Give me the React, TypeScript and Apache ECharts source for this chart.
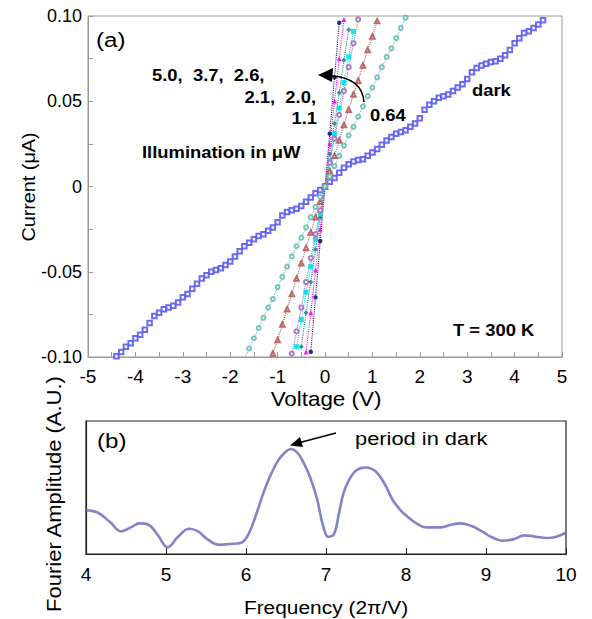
import React, { useEffect, useRef } from "react";
import * as echarts from "echarts";

const FONT = "'Liberation Sans', Arial, sans-serif";

// ---- Panel (a): I-V curves ----
const darkVoltage = [
  -4.4, -4.3, -4.2, -4.1, -4.0, -3.9, -3.8, -3.7, -3.6, -3.5, -3.4, -3.3, -3.2, -3.1, -3.0,
  -2.9, -2.8, -2.7, -2.6, -2.5, -2.4, -2.3, -2.2, -2.1, -2.0, -1.9, -1.8, -1.7, -1.6, -1.5,
  -1.4, -1.3, -1.2, -1.1, -1.0, -0.9, -0.8, -0.7, -0.6, -0.5, -0.4, -0.3, -0.2, -0.1, 0.0,
  0.1, 0.2, 0.3, 0.4, 0.5, 0.6, 0.7, 0.8, 0.9, 1.0, 1.1, 1.2, 1.3, 1.4, 1.5,
  1.6, 1.7, 1.8, 1.9, 2.0, 2.1, 2.2, 2.3, 2.4, 2.5, 2.6, 2.7, 2.8, 2.9, 3.0,
  3.1, 3.2, 3.3, 3.4, 3.5, 3.6, 3.7, 3.8, 3.9, 4.0, 4.1, 4.2, 4.3, 4.4, 4.5, 4.6,
];
const darkCurrent = [
  -0.0995, -0.097, -0.094, -0.092, -0.089, -0.087, -0.084, -0.08, -0.076, -0.074, -0.072, -0.071, -0.07, -0.068, -0.065,
  -0.063, -0.06, -0.057, -0.054, -0.052, -0.05, -0.049, -0.048, -0.046, -0.044, -0.041, -0.038, -0.035, -0.033, -0.031,
  -0.029, -0.028, -0.026, -0.024, -0.021, -0.017, -0.015, -0.014, -0.013, -0.0115, -0.009, -0.0065, -0.004, -0.002, 0.0,
  0.0028, 0.005, 0.008, 0.011, 0.013, 0.0146, 0.0155, 0.016, 0.018, 0.02, 0.022, 0.0245, 0.027, 0.029, 0.031,
  0.032, 0.033, 0.035, 0.037, 0.04, 0.045, 0.048, 0.05, 0.052, 0.053, 0.054, 0.056, 0.058, 0.06, 0.063,
  0.067, 0.0695, 0.071, 0.072, 0.073, 0.0735, 0.075, 0.077, 0.08, 0.084, 0.087, 0.09, 0.091, 0.093, 0.095, 0.0975,
];

const v50 = [-0.3, -0.2, -0.1, 0, 0.1, 0.2, 0.3];
const i50 = [-0.097, -0.065, -0.032, 0, 0.031, 0.064, 0.096];

const v37 = [-0.4, -0.3, -0.2, -0.1, 0, 0.1, 0.2, 0.3, 0.4];
const i37 = [-0.097, -0.074, -0.049, -0.025, 0, 0.025, 0.05, 0.075, 0.098];

const v26 = [-0.5, -0.4, -0.3, -0.2, -0.1, 0, 0.1, 0.2, 0.3, 0.4, 0.5];
const i26 = [-0.094, -0.074, -0.056, -0.037, -0.018, 0, 0.019, 0.037, 0.055, 0.074, 0.092];

const v21 = [-0.6, -0.5, -0.4, -0.3, -0.2, -0.1, 0, 0.1, 0.2, 0.3, 0.4, 0.5, 0.6];
const i21 = [-0.094, -0.078, -0.062, -0.047, -0.031, -0.016, 0, 0.015, 0.031, 0.046, 0.061, 0.076, 0.091];

const v20 = [-0.7, -0.6, -0.5, -0.4, -0.3, -0.2, -0.1, 0, 0.1, 0.2, 0.3, 0.4, 0.5, 0.6, 0.7];
const i20 = [-0.098, -0.085, -0.071, -0.056, -0.042, -0.028, -0.014, 0, 0.014, 0.028, 0.042, 0.056, 0.07, 0.084, 0.098];

const v11 = [-1.1, -1.0, -0.9, -0.8, -0.7, -0.6, -0.5, -0.4, -0.3, -0.2, -0.1, 0, 0.1, 0.2, 0.3, 0.4, 0.5, 0.6, 0.7, 0.8, 0.9, 1.0, 1.1];
const i11 = [-0.098, -0.09, -0.081, -0.072, -0.063, -0.054, -0.045, -0.036, -0.027, -0.018, -0.009, 0, 0.009, 0.018, 0.027, 0.036, 0.045, 0.054, 0.062, 0.071, 0.08, 0.088, 0.097];

const v064 = [-1.7, -1.6, -1.5, -1.4, -1.3, -1.2, -1.1, -1.0, -0.9, -0.8, -0.7, -0.6, -0.5, -0.4, -0.3, -0.2, -0.1, 0,
  0.1, 0.2, 0.3, 0.4, 0.5, 0.6, 0.7, 0.8, 0.9, 1.0, 1.1, 1.2, 1.3, 1.4, 1.5, 1.6, 1.7];
const i064 = [-0.101, -0.095, -0.089, -0.083, -0.077, -0.071, -0.066, -0.059, -0.053, -0.047, -0.041, -0.035, -0.03, -0.024, -0.018, -0.012, -0.006, 0,
  0.006, 0.012, 0.018, 0.024, 0.03, 0.035, 0.041, 0.047, 0.053, 0.058, 0.064, 0.07, 0.076, 0.081, 0.087, 0.093, 0.099];

const illumSeries = [
  { name: "5.0", v: v50, i: i50, color: "#1b1b72", symbol: "circle", size: 4.5 },
  { name: "3.7", v: v37, i: i37, color: "#ff00ff", symbol: "triangle", size: 5 },
  { name: "2.6", v: v26, i: i26, color: "#1f8a80", symbol: "diamond", size: 5 },
  { name: "2.1", v: v21, i: i21, color: "#00e0ee", symbol: "rect", size: 5 },
  { name: "2.0", v: v20, i: i20, color: "#a070c0", symbol: "emptyCircle", size: 4.2 },
  { name: "1.1", v: v11, i: i11, color: "#b25a5a", symbol: "emptyTriangle", size: 4.5 },
  { name: "0.64", v: v064, i: i064, color: "#6cbdb5", symbol: "emptyCircle", size: 4 },
];

// ---- Panel (b): Fourier spectrum ----
const freq = [4.0, 4.15, 4.3, 4.44, 4.56, 4.67, 4.78, 4.9, 5.02, 5.15, 5.29, 5.4, 5.52, 5.66, 5.8, 5.94, 6.04, 6.14,
  6.23, 6.32, 6.41, 6.5, 6.56, 6.63, 6.7, 6.8, 6.89, 6.96, 7.03, 7.1, 7.16, 7.22, 7.29, 7.36, 7.43, 7.5, 7.57, 7.64,
  7.74, 7.83, 7.93, 8.02, 8.13, 8.25, 8.44, 8.56, 8.68, 8.82, 8.95, 9.06, 9.2, 9.34, 9.48, 9.62, 9.76, 9.88, 10.0];
const amp = [0.33, 0.31, 0.24, 0.17, 0.2, 0.23, 0.22, 0.14, 0.05, 0.13, 0.19, 0.17, 0.11, 0.07, 0.075, 0.085, 0.16, 0.32,
  0.48, 0.61, 0.71, 0.77, 0.79, 0.77, 0.71, 0.58, 0.41, 0.22, 0.13, 0.15, 0.3, 0.46, 0.56, 0.62, 0.645, 0.65, 0.64, 0.61,
  0.52, 0.41, 0.33, 0.28, 0.23, 0.2, 0.2, 0.22, 0.23, 0.21, 0.17, 0.13, 0.1, 0.11, 0.14, 0.13, 0.12, 0.13, 0.16];

const zip = (a: number[], b: number[]) => a.map((x, k) => [x, b[k]]);

function txt(text: string, x: number, y: number, size: number, opts: any = {}) {
  const align = opts.align || "left";
  return {
    type: "text",
    x,
    y,
    rotation: opts.rotation || 0,
    scaleX: opts.sx || 1.15,
    scaleY: 1,
    z: 100,
    style: {
      text,
      fill: "#000",
      font: `${opts.bold ? "bold " : ""}${size}px ${FONT}`,
      align,
      textAlign: align,
      verticalAlign: "middle",
      textVerticalAlign: "middle",
    },
  };
}

export default function App() {
  const ref = useRef<HTMLDivElement>(null);
  useEffect(() => {
    if (!ref.current) return;
    const chart = echarts.init(ref.current, undefined, { renderer: "svg" });

    const series: any[] = [
      {
        type: "line",
        xAxisIndex: 0,
        yAxisIndex: 0,
        data: zip(darkVoltage, darkCurrent),
        symbol: "emptyRect",
        symbolSize: 4.5,
        itemStyle: { color: "#5b5bf2", borderWidth: 1, opacity: 0.9 },
        lineStyle: { color: "#5b5bf2", width: 0.5, opacity: 0.3 },
        z: 2,
      },
      ...illumSeries.map((s) => ({
        type: "line",
        xAxisIndex: 0,
        yAxisIndex: 0,
        name: s.name,
        data: zip(s.v, s.i),
        symbol: s.symbol,
        symbolSize: s.size,
        itemStyle: { color: s.color, borderWidth: 1, opacity: 0.9 },
        lineStyle: { color: s.color, width: 1.1, type: "dotted" },
        clip: true,
        z: 3,
      })),
      {
        type: "line",
        xAxisIndex: 1,
        yAxisIndex: 1,
        data: zip(freq, amp),
        smooth: 0.4,
        showSymbol: false,
        symbol: "none",
        lineStyle: { color: "#6d6dbd", width: 2.6, opacity: 0.85 },
      },
    ];

    const yFmt = (v: number) => {
      const k = Math.round(v * 40);
      if (k % 2 !== 0) return "";
      if (k === 0) return "0";
      return (k / 40).toFixed(2);
    };

    chart.setOption({
      animation: false,
      backgroundColor: "#fff",
      grid: [
        { left: 88, top: 16, width: 474, height: 341, show: true, borderColor: "#999", borderWidth: 1, backgroundColor: "transparent" },
        { left: 86, top: 421, width: 480, height: 133, show: true, borderColor: "#222", borderWidth: 1.2, backgroundColor: "transparent" },
      ],
      xAxis: [
        {
          gridIndex: 0,
          type: "value",
          min: -5,
          max: 5,
          interval: 0.5,
          axisLine: { show: true, onZero: false, lineStyle: { color: "#999", width: 1 } },
          axisTick: { show: true, inside: true, length: 5, lineStyle: { color: "#999" } },
          splitLine: { show: false },
          axisLabel: {
            color: "#000",
            fontSize: 19,
            fontFamily: FONT,
            margin: 10,
            showMinLabel: true,
            showMaxLabel: true,
            formatter: (v: number) => (Math.abs(v - Math.round(v)) < 1e-6 ? String(Math.round(v)) : ""),
          },
        },
        {
          gridIndex: 1,
          type: "value",
          min: 4,
          max: 10,
          interval: 1,
          axisLine: { show: true, onZero: false, lineStyle: { color: "#222", width: 1.2 } },
          axisTick: { show: true, inside: true, length: 6, lineStyle: { color: "#222" } },
          splitLine: { show: false },
          axisLabel: { color: "#000", fontSize: 19, fontFamily: FONT, margin: 11, showMinLabel: true, showMaxLabel: true },
        },
      ],
      yAxis: [
        {
          gridIndex: 0,
          type: "value",
          min: -0.1,
          max: 0.1,
          interval: 0.025,
          axisLine: { show: true, onZero: false, lineStyle: { color: "#999", width: 1 } },
          axisTick: { show: true, inside: true, length: 5, lineStyle: { color: "#999" } },
          splitLine: { show: false },
          axisLabel: { color: "#000", fontSize: 18, fontFamily: FONT, margin: 6, showMinLabel: true, showMaxLabel: true, formatter: yFmt },
        },
        {
          gridIndex: 1,
          type: "value",
          min: 0,
          max: 1,
          axisLine: { show: true, onZero: false, lineStyle: { color: "#222", width: 1.2 } },
          axisTick: { show: false },
          axisLabel: { show: false },
          splitLine: { show: false },
        },
      ],
      series,
      graphic: [
        txt("(a)", 96, 40, 21),
        txt("5.0,  3.7,  2.6,", 152, 75, 16, { bold: true }),
        txt("2.1,  2.0,", 316, 97, 16, { bold: true, align: "right" }),
        txt("1.1", 317, 118, 16, { bold: true, align: "right" }),
        txt("Illumination in μW", 142, 152, 16, { bold: true }),
        txt("0.64", 370, 115, 16, { bold: true }),
        txt("dark", 472, 90, 16, { bold: true }),
        txt("T = 300 K", 453, 330, 16, { bold: true }),
        txt("Current (μA)", 29, 187, 18, { align: "center", rotation: Math.PI / 2, sx: 1.1 }),
        txt("Voltage (V)", 326, 399, 20, { align: "center", sx: 1.12 }),
        {
          type: "bezierCurve",
          z: 100,
          shape: { x1: 364, y1: 102, x2: 332, y2: 76, cpx1: 362, cpy1: 78 },
          style: { stroke: "#000", lineWidth: 1.5, fill: "none" },
        },
        {
          type: "polygon",
          z: 100,
          shape: { points: [[318, 75], [333, 68], [332, 82]] },
          style: { fill: "#000" },
        },
        txt("(b)", 97, 441, 21),
        txt("period in dark", 355, 438, 19, { sx: 1.15 }),
        {
          type: "line",
          z: 100,
          shape: { x1: 336, y1: 433, x2: 300, y2: 442.5 },
          style: { stroke: "#000", lineWidth: 1.5 },
        },
        {
          type: "polygon",
          z: 100,
          shape: { points: [[290, 445.5], [303, 447], [300, 437]] },
          style: { fill: "#000" },
        },
        txt("Fourier Amplitude (A.U.)", 54, 494, 20, { align: "center", rotation: Math.PI / 2, sx: 1.1 }),
        txt("Frequency (2π/V)", 326, 607, 19, { align: "center", sx: 1.1 }),
      ],
    });
    return () => chart.dispose();
  }, []);
  return <div ref={ref} style={{ position: "fixed", left: 0, top: 0, width: 592, height: 619 }} />;
}
